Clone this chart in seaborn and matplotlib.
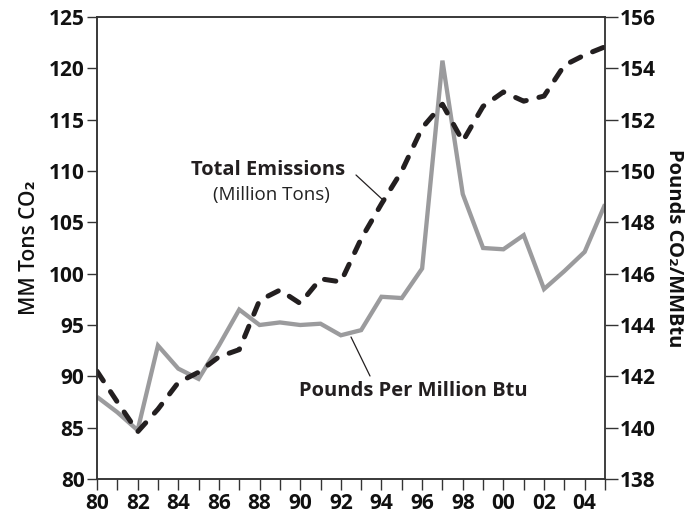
import numpy as np
import pandas as pd
import seaborn as sns
import matplotlib
matplotlib.use("Agg")
import matplotlib.pyplot as plt

# data
years = list(range(1980, 2006))
total_emissions = [90.5, 87.5, 84.6, 86.8, 89.4, 90.4, 91.9, 92.6, 97.4, 98.4,
                   97.1, 99.5, 99.2, 103.4, 106.8, 110.0, 114.2, 116.5, 112.9, 116.3,
                   117.7, 116.8, 117.3, 120.3, 121.3, 122.1]
pounds_per_mmbtu = [141.2, 140.6, 139.9, 143.2, 142.3, 141.9, 143.2, 144.6, 144.0, 144.1,
                    144.0, 144.05, 143.6, 143.8, 145.1, 145.05, 146.2, 154.3, 149.1, 147.0,
                    146.95, 147.5, 145.4, 146.1, 146.85, 148.7]
xtick_years = list(range(1980, 2005, 2))

df = pd.DataFrame({"year": years, "total": total_emissions, "pounds": pounds_per_mmbtu})

sns.set_style("ticks")
plt.rcParams['font.family'] = ['Open Sans', 'DejaVu Sans']

fig = plt.figure(figsize=(6.94, 5.17), dpi=100)
ax = fig.add_axes([97/694, 1 - 479/517, (605-97)/694, (479-17)/517])
ax2 = ax.twinx()

axis_col = "#333333"
black = "#231f20"
grey = "#9b9b9d"

# grey line on right axis
sns.lineplot(data=df, x="year", y="pounds", ax=ax2, color=grey, linewidth=3.1,
             solid_capstyle="butt", solid_joinstyle="miter")
# dashed black on left axis
sns.lineplot(data=df, x="year", y="total", ax=ax, color=black, linewidth=3.6)
ax.lines[0].set_dashes((2.3, 2.6))
ax.lines[0].set_dash_capstyle("round")
ax.set_zorder(ax2.get_zorder() + 1)
ax.patch.set_visible(False)

ax.set_xlim(1980, 2005)
ax.set_ylim(80, 125)
ax2.set_ylim(138, 156)
ax.set_xticks(years)
ax.set_xticklabels(["%02d" % (y % 100) if y in xtick_years else "" for y in years])
ax.set_yticks(np.arange(80, 126, 5))
ax2.set_yticks(np.arange(138, 157, 2))

for lab in ax.get_xticklabels() + ax.get_yticklabels() + ax2.get_yticklabels():
    lab.set_fontsize(15)
    lab.set_fontweight("bold")
    lab.set_color("#111111")

ax.tick_params(axis="both", direction="out", length=7, width=1, color=axis_col, pad=2)
ax.tick_params(axis="x", length=8, pad=2)
ax2.tick_params(axis="y", direction="out", length=9, width=1, color=axis_col, pad=2)

for a in (ax, ax2):
    for s in a.spines.values():
        s.set_visible(True)
        s.set_linewidth(1.1)
        s.set_color(axis_col)
ax2.spines["right"].set_color("#555555")

ax.set_xlabel("")
ax.set_ylabel("MM Tons CO₂", fontsize=15, fontweight="semibold", labelpad=6, color="#111111")
ax2.set_ylabel("Pounds CO₂/MMBtu", fontsize=14.5, fontweight="bold", rotation=-90,
               labelpad=20, color="#111111")

# annotations (pixel positions measured from the top of the image)
H = 517
ax.text(268, H - 170, "Total Emissions", transform=None, fontsize=14.5, fontweight="bold",
        ha="center", va="center", color=black)
ax.text(271, H - 195, "(Million Tons)", transform=None, fontsize=13.5, ha="center",
        va="center", color="#222222")
ax.text(413, H - 391, "Pounds Per Million Btu", transform=None, fontsize=14.5,
        fontweight="bold", ha="center", va="center", color=black)

for (x0, y0), (x1, y1) in [((356, 175), (383, 200)), ((351, 337), (370, 376))]:
    p0 = fig.transFigure.inverted().transform((x0, H - y0))
    p1 = fig.transFigure.inverted().transform((x1, H - y1))
    fig.add_artist(plt.Line2D([p0[0], p1[0]], [p0[1], p1[1]], color=black, linewidth=0.9,
                              transform=fig.transFigure))

fig.savefig("out.png", dpi=100)
